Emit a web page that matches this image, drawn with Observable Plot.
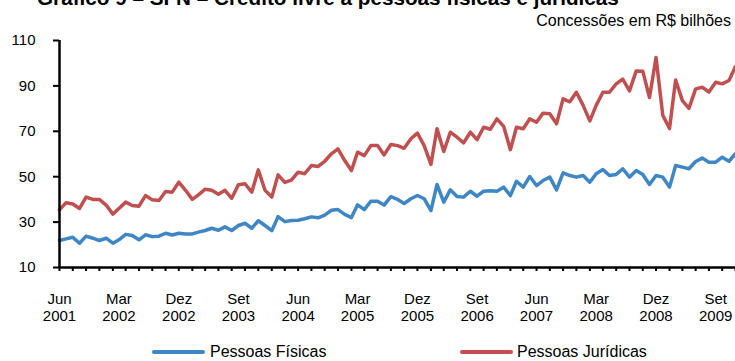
<!DOCTYPE html>
<html>
<head>
<meta charset="utf-8">
<script src="https://cdn.jsdelivr.net/npm/d3@7"></script>
<script src="https://cdn.jsdelivr.net/npm/@observablehq/plot@0.6"></script>
<style>
  body { margin: 0; background: #fff; font-family: "Liberation Sans", Arial, sans-serif; color: #000; }
  #wrap { width: 735px; height: 361px; overflow: hidden; position: relative; }
  #head { position: relative; height: 32px; }
  #title { position: absolute; left: 37px; top: -12px; font-size: 20.7px; font-weight: bold; line-height: 20px; white-space: nowrap; }
  #sub { position: absolute; right: 4px; top: 13px; font-size: 16px; line-height: 16px; white-space: nowrap; }
  #chart svg { display: block; }
  #legend { position: relative; height: 29px; font-size: 16px; }
  .sw { position: absolute; top: 18px; height: 4px; width: 53px; border-radius: 2px; }
  .lb { position: absolute; top: 12px; line-height: 16px; white-space: nowrap; }
</style>
</head>
<body>
<div id="wrap">
  <div id="head">
    <div id="title">Gráfico 9 – SFN – Crédito livre a pessoas físicas e jurídicas</div>
    <div id="sub">Concessões em R$ bilhões</div>
  </div>
  <div id="chart"></div>
  <div id="legend">
    <div class="sw" style="left:152px;background:#3f86c5"></div>
    <div class="lb" style="left:210px">Pessoas Físicas</div>
    <div class="sw" style="left:460px;background:#c0504f"></div>
    <div class="lb" style="left:517px">Pessoas Jurídicas</div>
  </div>
</div>
<script>
// Monthly concessions, Jun 2001 – Dec 2009 (R$ bilhões)
const months = d3.utcMonth.range(new Date(Date.UTC(2001, 5, 1)), new Date(Date.UTC(2010, 0, 1)));

const pessoasFisicas = [
  21.9, 22.6, 23.3, 20.7, 23.8, 22.9, 21.9, 22.9, 20.7, 22.2,
  24.6, 24.1, 22.2, 24.4, 23.6, 23.8, 25.1, 24.3, 25.1, 24.8,
  24.8, 25.6, 26.3, 27.3, 26.4, 27.9, 26.3, 28.5, 29.5, 27.3,
  30.6, 28.5, 26.2, 32.4, 30.2, 30.7, 30.8, 31.5, 32.3, 31.9,
  33.1, 35.2, 35.5, 33.4, 32.0, 37.6, 35.5, 39.2, 39.2, 37.5,
  41.2, 40.0, 38.2, 40.3, 41.7, 40.3, 35.1, 46.6, 38.8, 44.2,
  41.3, 41.0, 43.6, 41.4, 43.6, 43.8, 43.6, 45.4, 41.7, 48.0,
  45.4, 50.1, 46.1, 48.3, 49.8, 44.2, 51.7, 50.5, 49.8, 50.5,
  47.6, 51.3, 53.2, 50.5, 51.0, 53.5, 49.8, 52.7, 51.0, 46.6,
  50.5, 49.8, 45.4, 54.9, 54.2, 53.5, 56.7, 58.2, 56.4, 56.4,
  58.6, 56.8, 60.1
];

const pessoasJuridicas = [
  35.5, 38.5, 38.0, 36.0, 41.0, 40.0, 40.0, 37.5, 33.5, 36.0,
  38.8, 37.3, 37.0, 41.7, 39.8, 39.5, 43.5, 43.2, 47.6, 44.0,
  40.0, 42.0, 44.5, 44.0, 42.3, 44.0, 40.5, 46.5, 46.9, 43.2,
  53.0, 44.0, 41.0, 50.8, 47.5, 48.5, 52.0, 51.3, 54.9, 54.5,
  56.8, 60.1, 62.3, 57.1, 52.7, 60.8, 59.3, 63.7, 63.7, 59.6,
  64.2, 63.7, 62.5, 66.7, 69.2, 63.7, 55.4, 71.1, 61.1, 69.6,
  67.4, 64.9, 69.6, 66.3, 71.8, 70.9, 75.5, 72.2, 61.9, 71.8,
  71.1, 75.5, 74.0, 78.0, 77.7, 73.3, 84.3, 83.0, 87.2, 81.4,
  74.6, 81.4, 87.2, 87.2, 90.9, 93.0, 87.8, 96.6, 96.5, 84.9,
  102.5, 77.0, 71.2, 92.6, 83.5, 80.1, 88.7, 89.4, 87.3, 91.6,
  90.9, 92.4, 98.5
];

const yTicks = [10, 30, 50, 70, 90, 110];
const tickLabels = [
  "Jun\n2001", "Mar\n2002", "Dez\n2002", "Set\n2003", "Jun\n2004", "Mar\n2005",
  "Dez\n2005", "Set\n2006", "Jun\n2007", "Mar\n2008", "Dez\n2008", "Set\n2009"
];

const blue = "#3f86c5";
const red = "#c0504f";

const rows = months.map((date, i) => ({date, pf: pessoasFisicas[i], pj: pessoasJuridicas[i]}));
const labelRows = tickLabels.map((text, k) => ({date: months[k * 9], text}));
const minorTicks = months.filter((d, i) => i % 2 === 0);

const chart = Plot.plot({
  width: 735,
  height: 300,
  marginLeft: 59,
  marginRight: 0,
  marginTop: 8,
  marginBottom: 65,
  style: {fontFamily: "'Liberation Sans', Arial, sans-serif", fontSize: "15px", color: "#000", background: "#fff"},
  x: {type: "utc", domain: [months[0], months[months.length - 1]], range: [59, 735], axis: null},
  y: {domain: [10, 110], axis: null},
  marks: [
    Plot.axisY({ticks: yTicks, tickSize: 6, tickPadding: 18, strokeWidth: 2, fontSize: 15, label: null, stroke: "#000"}),
    Plot.axisX({ticks: minorTicks, tickSize: 4, strokeWidth: 2, tickFormat: () => "", label: null, stroke: "#000"}),
    Plot.text(labelRows, {x: "date", frameAnchor: "bottom", dy: 24, lineAnchor: "top", text: "text", fontSize: 15, lineHeight: 1.15, fill: "#000"}),
    Plot.lineY(rows, {x: "date", y: "pf", stroke: blue, strokeWidth: 3.5}),
    Plot.lineY(rows, {x: "date", y: "pj", stroke: red, strokeWidth: 3.5}),
    Plot.ruleY([10], {stroke: "#000", strokeWidth: 2.5}),
    Plot.ruleX([months[0]], {y1: 10, y2: 110, stroke: "#000", strokeWidth: 2.5})
  ]
});
document.getElementById("chart").appendChild(chart);
</script>
</body>
</html>
